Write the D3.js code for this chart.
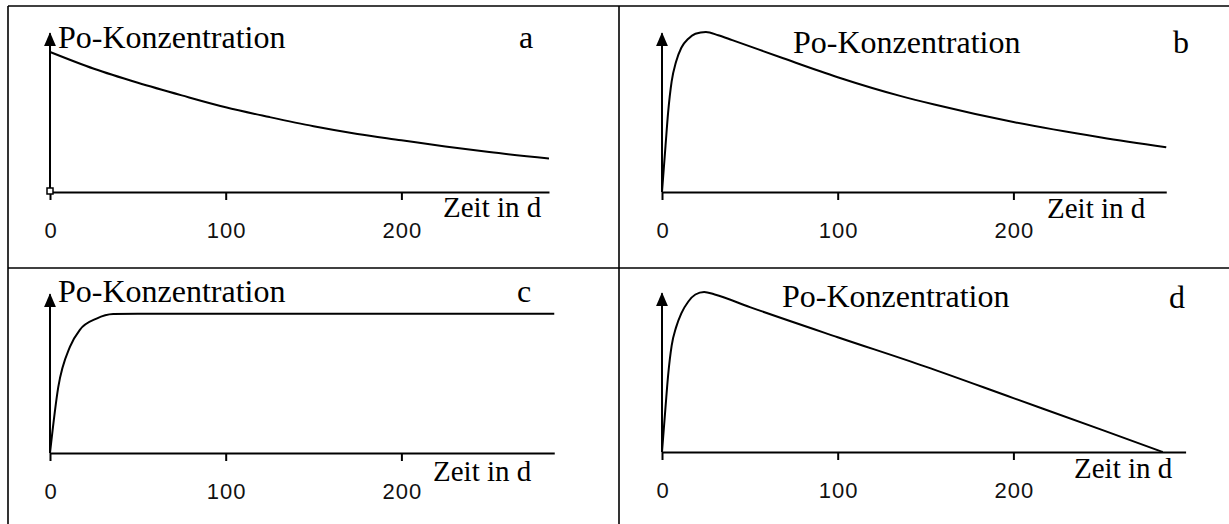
<!DOCTYPE html>
<html>
<head>
<meta charset="utf-8">
<script src="https://cdn.jsdelivr.net/npm/d3@7"></script>
<style>
  body { margin: 0; background: #fff; }
  svg { display: block; }
</style>
</head>
<body>
<svg width="1229" height="524"></svg>
<script>
// tick labels on the time axis (days)
const timeTicks = [0, 100, 200];

// time in days, concentration in arbitrary units (a starts at 100)
const daysA = [0, 25, 50, 75, 100, 125, 150, 175, 200, 225, 250, 284];
const concA = [100, 88, 78, 69, 60.5, 53.5, 47, 41.5, 37, 32.5, 28.5, 24];

const daysB = [0, 2, 3.5, 5.5, 8, 11, 15, 19, 25, 32, 40, 69, 100, 136, 155, 200, 250, 287];
const concB = [0, 33, 57, 79, 93, 103, 109.5, 113, 114.3, 112, 108.5, 95.5, 82, 68.5, 62.5, 50, 39, 32];

const daysC = [0, 4.7, 11.4, 17, 26.5, 36, 50, 287];
const concC = [0, 47, 76, 88, 96, 99.2, 99.5, 99.5];

const daysD = [0, 2, 3.5, 5.5, 8, 11, 15, 19, 24, 30, 50, 100, 150, 200, 250, 285];
const concD = [0, 32, 55, 76, 89, 99, 107.5, 112.5, 114.3, 112.5, 103.5, 82, 61, 38.5, 16, 0];

const panelLetters = ["a", "b", "c", "d"];
const yLabel = "Po-Konzentration";
const xLabel = "Zeit in d";

const pxPerDay = 1.757;
const pxPerUnit = 1.4;

// layout of the four cells
const panels = [
  { days: daysA, conc: concA, xEnd: 284, ox: 50,  oy: 192, tx: 58,  ty: 48,  lx: 519,  ly: 48,  ux: 443,  uy: 217, marker: true },
  { days: daysB, conc: concB, xEnd: 287, ox: 662, oy: 192, tx: 793, ty: 53,  lx: 1173, ly: 53,  ux: 1047, uy: 218 },
  { days: daysC, conc: concC, xEnd: 287, ox: 50,  oy: 453, tx: 58,  ty: 302, lx: 517,  ly: 302, ux: 433,  uy: 481 },
  { days: daysD, conc: concD, xEnd: 298, ox: 662, oy: 452, tx: 782, ty: 307, lx: 1169, ly: 308, ux: 1074, uy: 478 }
];

let svg = d3.select("svg");

// table grid
const grid = svg.append("g").attr("stroke", "#000").attr("stroke-width", 1.6);
grid.append("line").attr("x1", 8).attr("x2", 1229).attr("y1", 6).attr("y2", 6);
grid.append("line").attr("x1", 8).attr("x2", 8).attr("y1", 6).attr("y2", 524);
grid.append("line").attr("x1", 619).attr("x2", 619).attr("y1", 6).attr("y2", 524);
grid.append("line").attr("x1", 8).attr("x2", 1229).attr("y1", 268).attr("y2", 268);

// arrow head for the concentration axis
svg.append("defs").append("marker")
  .attr("id", "arrow")
  .attr("markerUnits", "userSpaceOnUse")
  .attr("viewBox", "0 0 12 14")
  .attr("refX", 6).attr("refY", 1)
  .attr("markerWidth", 12).attr("markerHeight", 14)
  .attr("orient", "0")
  .append("path")
  .attr("d", "M0,14 L6,0 L12,14 Z")
  .attr("fill", "#000");

panels.forEach((p, i) => {
  const g = svg.append("g");

  const x = d3.scaleLinear()
    .domain([0, p.xEnd])
    .range([p.ox, p.ox + p.xEnd * pxPerDay]);
  const y = d3.scaleLinear()
    .domain([0, 123])
    .range([p.oy, p.oy - 123 * pxPerUnit]);

  // time axis
  const xAxis = d3.axisBottom(x)
    .tickValues(timeTicks)
    .tickSizeInner(8)
    .tickSizeOuter(0)
    .tickPadding(22);
  const ax = g.append("g")
    .attr("transform", "translate(0," + p.oy + ")")
    .call(xAxis);
  ax.select(".domain").attr("stroke", "#000").attr("stroke-width", 2);
  ax.selectAll(".tick line").attr("stroke", "#000").attr("stroke-width", 2);
  ax.selectAll(".tick text")
    .attr("fill", "#111")
    .attr("font-family", "Liberation Sans, Arial, sans-serif")
    .attr("font-size", 22)
    .attr("letter-spacing", 1)
    .attr("dx", 0.5);

  // concentration axis with arrow
  g.append("line")
    .attr("x1", x(0)).attr("x2", x(0))
    .attr("y1", y(0)).attr("y2", y(122) + 12)
    .attr("stroke", "#000").attr("stroke-width", 2)
    .attr("marker-end", "url(#arrow)");

  // curve
  const pts = p.days.map((d, k) => [d, p.conc[k]]);
  g.append("path")
    .datum(pts)
    .attr("fill", "none")
    .attr("stroke", "#000")
    .attr("stroke-width", 2)
    .attr("stroke-linejoin", "round")
    .attr("d", d3.line()
      .x(d => x(d[0]))
      .y(d => y(d[1]))
      .curve(d3.curveMonotoneX));

  if (p.marker) {
    g.append("rect")
      .attr("x", x(0) - 3).attr("y", y(0) - 4)
      .attr("width", 6).attr("height", 6)
      .attr("fill", "#fff").attr("stroke", "#000").attr("stroke-width", 1.5);
  }

  // texts
  g.append("text")
    .attr("x", p.tx).attr("y", p.ty)
    .attr("font-family", "Liberation Serif, Times New Roman, serif")
    .attr("font-size", 32)
    .text(yLabel);
  g.append("text")
    .attr("x", p.lx).attr("y", p.ly)
    .attr("font-family", "Liberation Serif, Times New Roman, serif")
    .attr("font-size", 32)
    .text(panelLetters[i]);
  g.append("text")
    .attr("x", p.ux).attr("y", p.uy)
    .attr("font-family", "Liberation Serif, Times New Roman, serif")
    .attr("font-size", 29)
    .text(xLabel);
});
</script>
</body>
</html>
